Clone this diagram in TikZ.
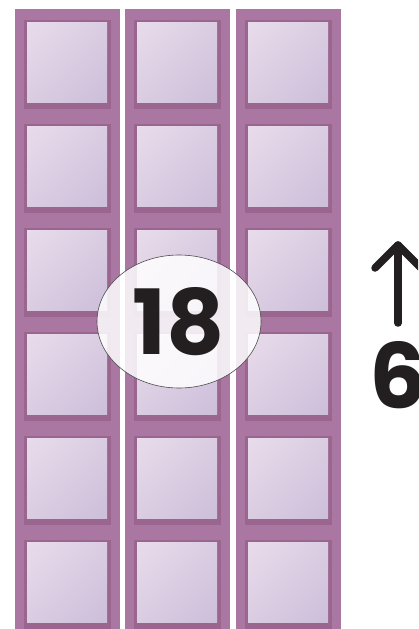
\documentclass[tikz,border=0pt]{standalone}
\usepackage{fontspec}
\setmainfont{Poppins}
\usetikzlibrary{shapes.geometric,shadings}
\definecolor{colfill}{HTML}{AA76A2}
\definecolor{colshade}{HTML}{9A6690}
\definecolor{sqA}{HTML}{E8DCEB}
\definecolor{sqB}{HTML}{CDBEDA}
\definecolor{sqM}{HTML}{DACDE2}
\definecolor{txt}{HTML}{231F20}
\tikzset{
  colbox/.style={fill=colfill, draw=none},
  sqshadow/.style={fill=colshade, draw=none},
  sqbox/.style={draw=none, upper left=sqA, lower right=sqB, upper right=sqM, lower left=sqM},
  ovalbox/.style={ellipse, draw=black!70, line width=0.6pt, fill=white, fill opacity=0.85, text opacity=1, minimum width=164pt, minimum height=133pt, inner sep=0pt},
  bignum/.style={font=\fontsize{90}{90}\selectfont\bfseries, text=txt, inner sep=0pt},
}
\begin{document}
\begin{tikzpicture}[x=1pt,y=-1pt]
\useasboundingbox (0,0) rectangle (418,629);
\clip (0,0) rectangle (418,629);
\foreach \cx in {15,125,236}{
  \fill[colbox] (\cx,9) rectangle ++(105,620);
  \foreach \r in {0,...,5}{
    \fill[sqshadow] ({\cx+9},{20+104*\r}) rectangle ++(87,89);
    \shade[sqbox] ({\cx+12},{22+104*\r}) rectangle ++(80,80);
  }
}
\node[ovalbox] (oval) at (179,321.5) {};
\node[bignum] (n18) at (oval.center) {18};
\coordinate (atop) at (398,245);
\coordinate (abot) at (398,323);
\draw[txt, line width=7.5pt, line cap=round, line join=round] (abot) -- (atop);
\draw[txt, line width=7.5pt, line cap=round, line join=round] (375,268) -- (atop) -- (421,268);
\node[bignum, anchor=north west] (n6) at (369,341) {6};
\end{tikzpicture}
\end{document}
